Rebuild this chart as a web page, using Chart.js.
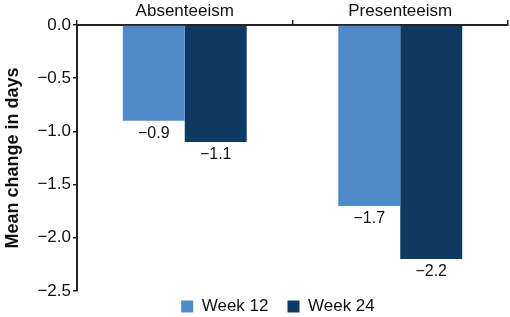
<!DOCTYPE html>
<html>
<head>
<meta charset="utf-8">
<script src="https://cdn.jsdelivr.net/npm/chart.js@4"></script>
<style>
  html, body { margin: 0; padding: 0; background: #fff; }
  canvas { display: block; }
</style>
</head>
<body>
<canvas id="chart" width="510" height="317"></canvas>
<script>
// values
const categories = ['Absenteeism', 'Presenteeism'];
const week12 = [-0.9, -1.7];
const week24 = [-1.1, -2.2];
const seriesNames = ['Week 12', 'Week 24'];

const fontFamily = '"Liberation Sans", Arial, sans-serif';
const minus = v => (v < 0 ? '\u2212' : '') + Math.abs(v).toFixed(1);

// value labels under each bar end
const barLabels = {
    id: 'barLabels',
    afterDatasetsDraw(chart) {
        const ctx = chart.ctx;
        ctx.save();
        ctx.font = '16px ' + fontFamily;
        ctx.fillStyle = '#111';
        ctx.textAlign = 'center';
        ctx.textBaseline = 'middle';
        chart.data.datasets.forEach((ds, i) => {
            chart.getDatasetMeta(i).data.forEach((bar, j) => {
                ctx.fillText(minus(ds.data[j]), bar.x, bar.y + 13);
            });
        });
        ctx.restore();
    }
};

// nudge the legend up and right, where the original has it
const legendShift = {
    id: 'legendShift',
    afterLayout(chart) {
        const lg = chart.legend;
        lg.top -= 12;
        lg.bottom -= 12;
        lg.left += 24;
        lg.right += 24;
    }
};

new Chart(document.getElementById('chart'), {
    type: 'bar',
    data: {
        labels: categories,
        datasets: [
            { label: seriesNames[0], data: week12, backgroundColor: '#4f8acb' },
            { label: seriesNames[1], data: week24, backgroundColor: '#0c3a60' }
        ]
    },
    options: {
        responsive: false,
        animation: false,
        layout: { padding: { left: 0, right: 2, top: 0, bottom: -20 } },
        datasets: {
            bar: { barPercentage: 1, categoryPercentage: 0.575 }
        },
        plugins: {
            legend: {
                position: 'bottom',
                labels: {
                    font: { family: fontFamily, size: 17 },
                    color: '#111',
                    boxWidth: 12,
                    boxHeight: 12,
                    padding: 19
                }
            },
            tooltip: { enabled: false }
        },
        scales: {
            x: {
                position: 'top',
                offset: true,
                grid: {
                    offset: true,
                    drawOnChartArea: false,
                    drawTicks: true,
                    tickLength: 5,
                    color: '#222',
                    lineWidth: 1.5
                },
                border: { display: true, color: '#222', width: 2 },
                ticks: {
                    font: { family: fontFamily, size: 17 },
                    color: '#111',
                    padding: -2
                },
                afterFit(scale) { scale.height = 25; }
            },
            y: {
                min: -2.5,
                max: 0,
                grid: {
                    drawOnChartArea: false,
                    drawTicks: true,
                    tickLength: 4,
                    color: '#222',
                    lineWidth: 1.5
                },
                border: { display: true, color: '#222', width: 2 },
                ticks: {
                    stepSize: 0.5,
                    font: { family: fontFamily, size: 17 },
                    color: '#111',
                    padding: 2,
                    callback: v => minus(v)
                },
                title: {
                    display: true,
                    text: 'Mean change in days',
                    font: { family: fontFamily, size: 18, weight: 'bold' },
                    color: '#111',
                    padding: 2
                },
                afterFit(scale) { scale.width = 77; }
            }
        }
    },
    plugins: [barLabels, legendShift]
});
</script>
</body>
</html>
